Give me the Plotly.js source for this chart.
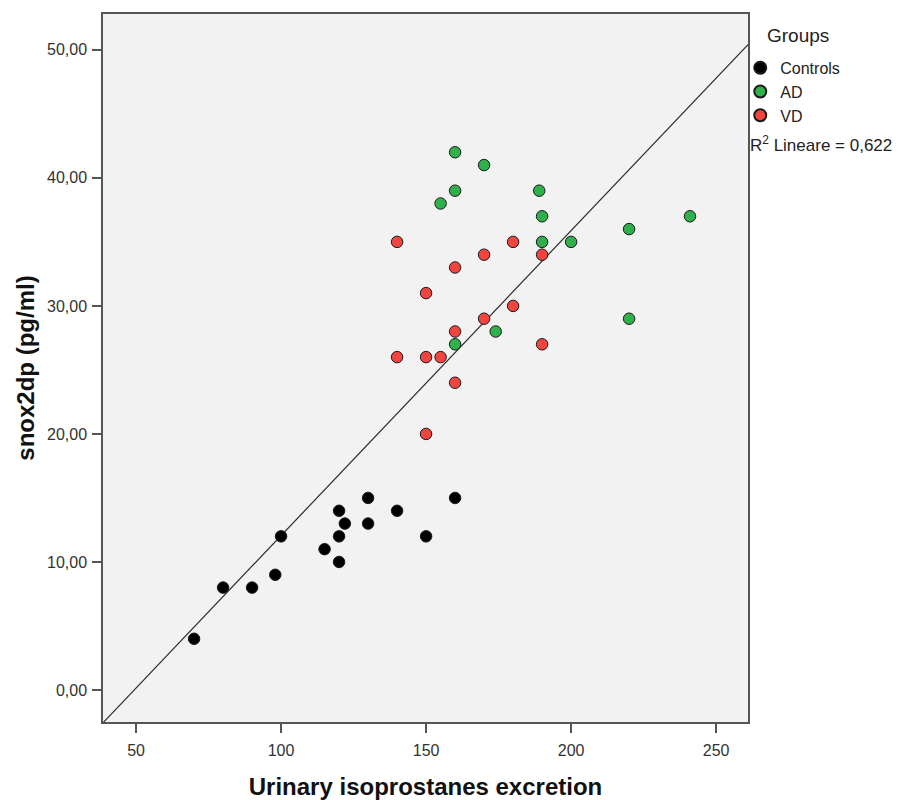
<!DOCTYPE html>
<html>
<head>
<meta charset="utf-8">
<script src="https://cdn.plot.ly/plotly-3.0.1.min.js"></script>
<style>html,body{margin:0;padding:0;background:#fff;}#chart{width:901px;height:800px;}</style>
</head>
<body>
<div id="chart"></div>
<script>
// Data
var controlsX = [70, 80, 90, 98, 100, 115, 120, 120, 120, 122, 130, 130, 140, 150, 160];
var controlsY = [4, 8, 8, 9, 12, 11, 12, 10, 14, 13, 15, 13, 14, 12, 15];
var adX = [160, 170, 160, 189, 155, 190, 241, 220, 190, 200, 220, 174, 160];
var adY = [42, 41, 39, 39, 38, 37, 37, 36, 35, 35, 29, 28, 27];
var vdX = [140, 180, 170, 190, 160, 150, 180, 170, 160, 190, 140, 150, 155, 160, 150];
var vdY = [35, 35, 34, 34, 33, 31, 30, 29, 28, 27, 26, 26, 26, 24, 20];
var groupNames = ["Controls", "AD", "VD"];
var legendTitle = "Groups";
var r2Label = "R<sup>2</sup> Lineare = 0,622";
var xRange = [38.6, 261];
var yRange = [-2.5, 52.8];

// Least-squares fit across all points
var allX = controlsX.concat(adX, vdX);
var allY = controlsY.concat(adY, vdY);
var n = allX.length, mx = 0, my = 0;
for (var i = 0; i < n; i++) { mx += allX[i]; my += allY[i]; }
mx /= n; my /= n;
var sxy = 0, sxx = 0;
for (var i = 0; i < n; i++) { sxy += (allX[i]-mx)*(allY[i]-my); sxx += (allX[i]-mx)*(allX[i]-mx); }
var slope = sxy / sxx, intercept = my - slope * mx;
var fitX = [xRange[0], xRange[1]];
var fitY = fitX.map(function(x){ return intercept + slope * x; });

var mk = function(color){ return {size: 11.5, color: color, line: {color: '#1a1a1a', width: 1}}; };

var traces = [
  {x: fitX, y: fitY, mode: 'lines', line: {color: '#2b2b2b', width: 1.2}, showlegend: false, hoverinfo: 'skip'},
  {x: controlsX, y: controlsY, mode: 'markers', name: groupNames[0], marker: mk('#000000')},
  {x: adX, y: adY, mode: 'markers', name: groupNames[1], marker: mk('#2fb04a')},
  {x: vdX, y: vdY, mode: 'markers', name: groupNames[2], marker: mk('#f0463f')}
];

var axisFont = {family: 'Liberation Sans, Arial, sans-serif', size: 16, color: '#333'};
var titleFontX = {family: 'Liberation Sans, Arial, sans-serif', size: 24, color: '#111', weight: 'bold'};
var titleFontY = {family: 'Liberation Sans, Arial, sans-serif', size: 24, color: '#111', weight: 'bold'};

var layout = {
  width: 901, height: 800,
  margin: {l: 103, r: 153, t: 14, b: 78},
  paper_bgcolor: '#ffffff',
  plot_bgcolor: '#f2f2f2',
  separators: ',.',
  font: {family: 'Liberation Sans, Arial, sans-serif', color: '#222'},
  xaxis: {
    range: xRange, tick0: 50, dtick: 50, showgrid: false, zeroline: false,
    showline: true, mirror: true, linecolor: '#555', linewidth: 1.5,
    ticks: 'outside', ticklen: 9, tickcolor: '#555', tickwidth: 1.5, tickfont: axisFont,
    ticklabelstandoff: 4,
    title: {text: 'Urinary isoprostanes excretion', font: titleFontX, standoff: 22}
  },
  yaxis: {
    range: yRange, tick0: 0, dtick: 10, tickformat: '.2f', showgrid: false, zeroline: false,
    showline: true, mirror: true, linecolor: '#555', linewidth: 1.5,
    ticks: 'outside', ticklen: 9, tickcolor: '#555', tickwidth: 1.5, tickfont: axisFont,
    ticklabelstandoff: 2,
    title: {text: 'snox2dp (pg/ml)', font: titleFontY, standoff: 6}
  },
  legend: {
    x: 0.988, y: 0.948, xanchor: 'left', yanchor: 'top',
    bgcolor: 'rgba(0,0,0,0)',
    font: {size: 16, color: '#222'},
    tracegroupgap: 0, itemsizing: 'constant'
  },
  annotations: [
    {
      text: legendTitle, xref: 'paper', yref: 'paper', x: (765-103)/645, y: (722-36)/708,
      xanchor: 'left', yanchor: 'middle', showarrow: false,
      font: {size: 19, color: '#222'}
    },
    {
      text: r2Label, xref: 'paper', yref: 'paper', x: 1.0, y: (722-144)/708,
      xanchor: 'left', yanchor: 'middle', showarrow: false,
      font: {size: 17, color: '#222'}
    }
  ]
};

Plotly.newPlot('chart', traces, layout, {displayModeBar: false});
</script>
</body>
</html>
